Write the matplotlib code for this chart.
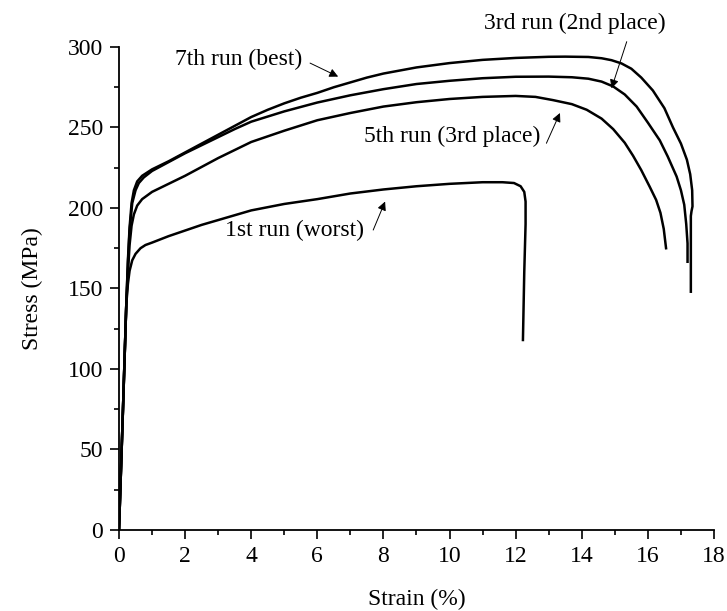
import matplotlib.pyplot as plt
from matplotlib.ticker import MultipleLocator

plt.rcParams['font.family'] = ['Liberation Serif', 'DejaVu Serif']

# Tensile test curves: strain (%) vs stress (MPa)
strain_7th = [0, 0.12, 0.22, 0.27, 0.32, 0.38, 0.45, 0.55, 0.7, 1, 1.5, 2, 2.5, 3, 3.5, 4, 4.5, 5, 5.5, 6,
              6.5, 7, 7.5, 8, 9, 10, 11, 12, 13, 13.5, 14.2, 14.6, 14.9, 15.2, 15.5, 15.8, 16.15, 16.5,
              16.76, 17.0, 17.18, 17.28, 17.34, 17.35, 17.32, 17.3, 17.3]
stress_7th = [0, 75, 140, 168, 188, 203, 211, 216.5, 220, 224, 229, 234.5, 240, 245.5, 251, 256.5, 261,
              265, 268.5, 271.5, 275, 278, 281, 283.5, 287.3, 290, 292, 293.2, 293.9, 294, 293.8, 293,
              291.8, 289.8, 286.5, 281, 273, 262, 250, 240, 230, 221, 211, 201, 198, 195, 148]

strain_3rd = [0, 0.12, 0.22, 0.27, 0.32, 0.4, 0.5, 0.6, 0.75, 1, 1.5, 2, 2.5, 3, 3.5, 4, 5, 6, 7, 8, 9, 10,
              11, 12, 13, 13.7, 14.2, 14.6, 14.95, 15.3, 15.66, 16.0, 16.36, 16.6, 16.87, 17.0, 17.1,
              17.16, 17.2, 17.2]
stress_3rd = [0, 75, 140, 166, 186, 203, 211, 215.5, 219, 223, 228.5, 234, 239, 244, 249, 253.6, 260,
              265.5, 270, 273.8, 277, 279, 280.6, 281.5, 281.6, 281.2, 280.3, 278.5, 275.5, 270.5, 263,
              253, 242, 232, 219.5, 211, 202, 190, 178, 166.6]

strain_5th = [0, 0.12, 0.22, 0.27, 0.32, 0.38, 0.45, 0.55, 0.7, 1, 1.5, 2, 2.5, 3, 3.5, 4, 5, 6, 7, 8, 9,
              10, 11, 12, 12.6, 13.13, 13.7, 14.15, 14.6, 14.95, 15.3, 15.55, 15.8, 16.06, 16.25, 16.38,
              16.48, 16.55]
stress_5th = [0, 75, 140, 160, 177, 189, 196, 201.5, 205.5, 210, 215, 220, 225.5, 231, 236, 241, 248,
              254.5, 259, 263, 265.7, 267.7, 269, 269.6, 269, 267, 264.5, 261, 255.5, 249, 240.5, 232.5,
              223.5, 213, 205, 197, 187, 175]

strain_1st = [0, 0.12, 0.22, 0.27, 0.32, 0.4, 0.5, 0.65, 0.8, 1, 1.5, 2, 2.5, 3, 4, 5, 6, 7, 8, 9, 10, 11,
              11.6, 11.95, 12.15, 12.26, 12.3, 12.3, 12.26, 12.22]
stress_1st = [0, 75, 140, 153, 161, 167.5, 171.5, 175, 177, 178.5, 182.5, 186, 189.5, 192.5, 198.5, 202.5,
              205.5, 209, 211.5, 213.5, 215, 216, 216, 215.5, 213.5, 210, 204, 190, 160, 118]

# label text, text position, arrow tail, arrow tip (data units)
labels = [
    ("7th run (best)", (1.69, 292), (5.78, 290), (6.63, 281.6), 'left'),
    ("3rd run (2nd place)", (13.79, 314.5), (15.36, 303.3), (14.9, 274.3), 'center'),
    ("5th run (3rd place)", (10.07, 244.5), (12.93, 240.2), (13.34, 259), 'center'),
    ("1st run (worst)", (5.32, 186), (7.69, 186.3), (8.05, 204), 'center'),
]

fig = plt.figure(figsize=(7.27, 6.11), dpi=100)
ax = fig.add_axes([0.1637, 0.1326, 0.8184, 0.7905])

for xs, ys in [(strain_7th, stress_7th), (strain_3rd, stress_3rd),
               (strain_5th, stress_5th), (strain_1st, stress_1st)]:
    ax.plot(xs, ys, color='black', lw=1.8, solid_joinstyle='round')

for text, pos, tail, tip, ha in labels:
    ax.text(pos[0], pos[1], text, fontsize=17, ha=ha, va='center')
    ax.annotate('', xy=tip, xytext=tail,
                arrowprops=dict(arrowstyle='-|>', color='black', lw=0.7,
                                mutation_scale=13, shrinkA=0, shrinkB=0))

ax.set_xlim(0, 18)
ax.set_ylim(0, 300)
ax.xaxis.set_major_locator(MultipleLocator(2))
ax.xaxis.set_minor_locator(MultipleLocator(1))
ax.yaxis.set_major_locator(MultipleLocator(50))
ax.yaxis.set_minor_locator(MultipleLocator(25))

for side in ['top', 'right']:
    ax.spines[side].set_visible(False)
for side in ['left', 'bottom']:
    ax.spines[side].set_linewidth(1.3)

ax.tick_params(which='major', direction='out', length=6.5, width=1.2, labelsize=17, pad=5)
ax.tick_params(which='minor', direction='out', length=3.8, width=1.2)

ax.set_xlabel('Strain (%)', fontsize=17, labelpad=16)
ax.set_ylabel('Stress (MPa)', fontsize=17, labelpad=18)

fig.savefig('out.png', dpi=100)
